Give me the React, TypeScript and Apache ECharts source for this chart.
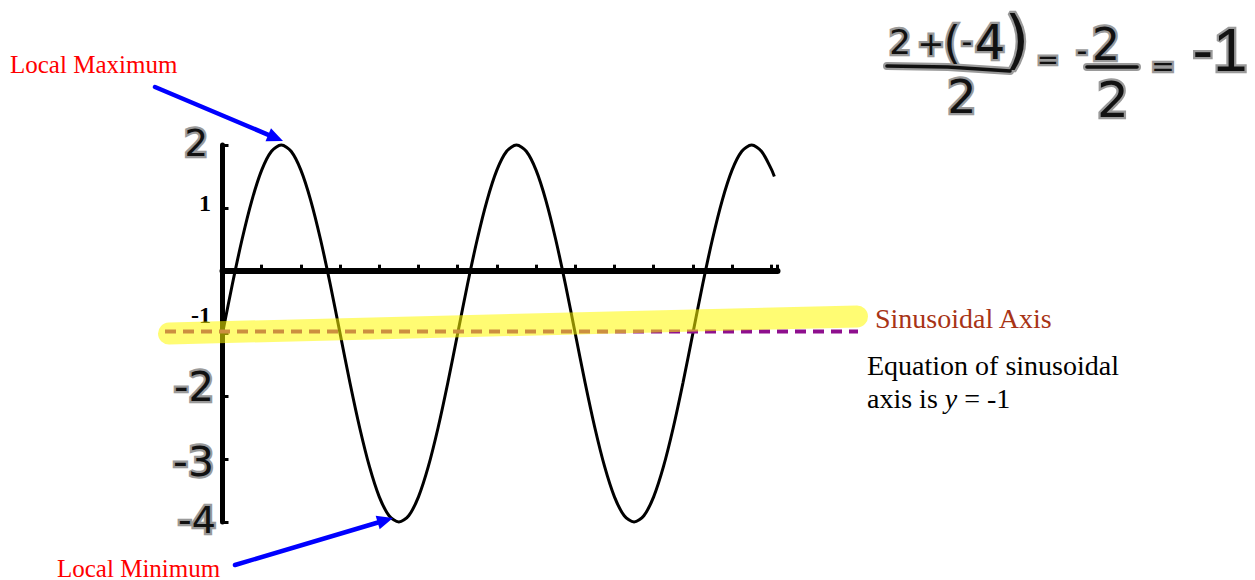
import React, { useEffect, useRef } from "react";
import * as echarts from "echarts";

// x positions in axis tick units
const xValues = [
  0, 0.25, 0.5, 0.75, 1, 1.25, 1.5, 1.75, 2, 2.25, 2.5, 2.75, 3, 3.25, 3.5, 3.75,
  4, 4.25, 4.5, 4.75, 5, 5.25, 5.5, 5.75, 6, 6.25, 6.5, 6.75, 7, 7.25, 7.5, 7.75,
  8, 8.25, 8.5, 8.75, 9, 9.25, 9.5, 9.75, 10, 10.25, 10.5, 10.75, 11, 11.25, 11.5,
  11.75, 12, 12.25, 12.5, 12.75, 13, 13.25, 13.5, 13.75, 14, 14.08,
];
// curve heights
const yValues = [
  -1, -0.22, 0.5, 1.12, 1.6, 1.9, 2, 1.9, 1.6, 1.12, 0.5, -0.22, -1, -1.78, -2.5, -3.12,
  -3.6, -3.9, -4, -3.9, -3.6, -3.12, -2.5, -1.78, -1, -0.22, 0.5, 1.12, 1.6, 1.9, 2, 1.9,
  1.6, 1.12, 0.5, -0.22, -1, -1.78, -2.5, -3.12, -3.6, -3.9, -4, -3.9, -3.6, -3.12, -2.5,
  -1.78, -1, -0.22, 0.5, 1.12, 1.6, 1.9, 2, 1.9, 1.62, 1.5,
];
const yTickValues = [2, 1, -1, -2, -3, -4];
const yTickLabels = ["2", "1", "-1", "-2", "-3", "-4"];
const sinusoidalAxisValue = -1;
const xMin = 0;
const xMax = 14.16;
const yMin = -4;
const yMax = 2;

const SERIF = "'Liberation Serif', 'Times New Roman', serif";
const HAND = "'DejaVu Sans', sans-serif";
const HALO = "#9a9a9a";

function handText(text: string, x: number, y: number, size: number, align = "center", family = HAND) {
  const base = {
    text,
    x,
    y,
    fontSize: size,
    fontFamily: family,
    align,
    verticalAlign: "middle",
  };
  return [
    {
      type: "text",
      z: 29,
      silent: true,
      style: { ...base, fill: HALO, stroke: HALO, lineWidth: 4.5 },
    },
    {
      type: "text",
      z: 30,
      style: { ...base, fill: "#111" },
    },
  ];
}

function arrow(x1: number, y1: number, x2: number, y2: number) {
  const dx = x2 - x1;
  const dy = y2 - y1;
  const len = Math.sqrt(dx * dx + dy * dy);
  const ux = dx / len;
  const uy = dy / len;
  const head = 16;
  const half = 7;
  const bx = x2 - ux * head;
  const by = y2 - uy * head;
  const nx = -uy;
  const ny = ux;
  return [
    {
      type: "line",
      z: 30,
      shape: { x1, y1, x2: bx + ux * 2, y2: by + uy * 2 },
      style: { stroke: "#0000ff", lineWidth: 4.5, lineCap: "round" },
    },
    {
      type: "polygon",
      z: 30,
      shape: {
        points: [
          [x2, y2],
          [bx + nx * half, by + ny * half],
          [bx - nx * half, by - ny * half],
        ],
      },
      style: { fill: "#0000ff" },
    },
  ];
}

function handStroke(points: number[][]) {
  return [
    {
      type: "polyline",
      z: 29,
      shape: { points },
      style: { stroke: HALO, lineWidth: 8, lineCap: "round", lineJoin: "round", fill: null },
    },
    {
      type: "polyline",
      z: 30,
      shape: { points },
      style: { stroke: "#111", lineWidth: 3.6, lineCap: "round", lineJoin: "round", fill: null },
    },
  ];
}

const labelLayout: Record<string, { dx: number; dy: number; size: number; hand: boolean }> = {
  "2": { dx: -14.5, dy: -2, size: 37, hand: true },
  "1": { dx: -11.5, dy: -5, size: 24, hand: false },
  "-1": { dx: -11.5, dy: -18.5, size: 24, hand: false },
  "-2": { dx: -8.5, dy: -9, size: 40, hand: true },
  "-3": { dx: -8.5, dy: 3, size: 41, hand: true },
  "-4": { dx: -6.5, dy: -2, size: 38, hand: true },
};

export default function App() {
  const ref = useRef<HTMLDivElement>(null);

  useEffect(() => {
    if (!ref.current) return;
    const chart = echarts.init(ref.current, null, { renderer: "svg" });
    chart.setOption({
      animation: false,
      backgroundColor: "#ffffff",
      grid: { left: 222.5, top: 145, width: 555, height: 377, containLabel: false },
      xAxis: {
        type: "value",
        min: xMin,
        max: xMax,
        interval: 1,
        axisLine: { show: true, onZero: true, lineStyle: { color: "#000", width: 6 } },
        axisTick: { show: true, inside: true, length: 6, lineStyle: { color: "#000", width: 3 } },
        axisLabel: { show: false },
        splitLine: { show: false },
      },
      yAxis: {
        type: "value",
        min: yMin,
        max: yMax,
        interval: 1,
        axisLine: { show: true, onZero: false, lineStyle: { color: "#000", width: 5 } },
        axisTick: { show: true, inside: true, length: 6, lineStyle: { color: "#000", width: 3 } },
        axisLabel: { show: false },
        splitLine: { show: false },
      },
      series: [
        {
          type: "line",
          z: 2,
          data: xValues.map((x, i) => [x, yValues[i]]),
          showSymbol: false,
          symbol: "none",
          smooth: 0.3,
          clip: false,
          lineStyle: { color: "#000", width: 3 },
        },
      ],
    });

    const axisX = chart.convertToPixel({ xAxisIndex: 0 }, 0) as number;
    const axisPx = chart.convertToPixel({ yAxisIndex: 0 }, sinusoidalAxisValue) as number;

    const graphics: any[] = [];

    // y tick labels
    yTickValues.forEach((v, i) => {
      const t = yTickLabels[i];
      const L = labelLayout[t];
      const py = chart.convertToPixel({ yAxisIndex: 0 }, v) as number;
      if (L.hand) {
        graphics.push(...handText(t, axisX + L.dx, py + L.dy, L.size, "right"));
      } else {
        graphics.push({
          type: "text",
          z: 30,
          style: {
            text: t,
            x: axisX + L.dx,
            y: py + L.dy,
            fontSize: L.size,
            fontWeight: "bold",
            fontFamily: SERIF,
            fill: "#000",
            align: "right",
            verticalAlign: "middle",
          },
        });
      }
    });

    // dashed sinusoidal axis
    graphics.push({
      type: "line",
      z: 40,
      shape: { x1: 165, y1: axisPx - 2, x2: 858, y2: axisPx - 2 },
      style: { stroke: "#8e0f8e", lineWidth: 4, lineDash: [11, 7] },
    });
    // highlighter stroke
    graphics.push({
      type: "line",
      z: 50,
      shape: { x1: 169, y1: axisPx, x2: 857, y2: axisPx - 17 },
      style: { stroke: "rgba(255,250,0,0.55)", lineWidth: 22, lineCap: "round" },
    });

    // annotations
    graphics.push({
      type: "text",
      z: 30,
      style: { text: "Local Maximum", x: 10, y: 64, fontSize: 25, fontFamily: SERIF, fill: "#ff0000", align: "left", verticalAlign: "middle" },
    });
    graphics.push({
      type: "text",
      z: 30,
      style: { text: "Local Minimum", x: 57, y: 568, fontSize: 25, fontFamily: SERIF, fill: "#ff0000", align: "left", verticalAlign: "middle" },
    });
    graphics.push(...arrow(155, 87, 283, 141));
    graphics.push(...arrow(235, 565, 393, 518));

    graphics.push({
      type: "text",
      z: 60,
      style: { text: "Sinusoidal Axis", x: 875, y: 318, fontSize: 28, fontFamily: SERIF, fill: "#a83416", align: "left", verticalAlign: "middle" },
    });
    graphics.push({
      type: "text",
      z: 30,
      style: { text: "Equation of sinusoidal", x: 867, y: 365, fontSize: 28, fontFamily: SERIF, fill: "#000", align: "left", verticalAlign: "middle" },
    });
    graphics.push({
      type: "text",
      z: 30,
      style: {
        text: "{a|axis is }{i|y}{a| = -1}",
        x: 867,
        y: 398,
        fontSize: 28,
        fontFamily: SERIF,
        fill: "#000",
        align: "left",
        verticalAlign: "middle",
        rich: {
          a: { fontSize: 28, fontFamily: SERIF, fill: "#000" },
          i: { fontSize: 28, fontFamily: SERIF, fontStyle: "italic", fill: "#000" },
        },
      },
    });

    // handwritten computation
    graphics.push(...handText("2", 900, 42, 34));
    graphics.push(...handText("+", 931, 44, 32));
    graphics.push(...handText("(", 952, 42, 44));
    graphics.push(...handText("-", 967, 41, 30));
    graphics.push(...handText("4", 990, 42, 48));
    graphics.push(...handText(")", 1017, 40, 64));
    graphics.push(...handStroke([[887, 66], [948, 67], [1010, 71]]));
    graphics.push(...handText("2", 962, 97, 46));
    graphics.push(...handText("=", 1048, 60, 26));
    graphics.push(...handText("-", 1082, 50, 30));
    graphics.push(...handText("2", 1106, 44, 44));
    graphics.push(...handStroke([[1087, 67], [1137, 67]]));
    graphics.push(...handText("2", 1113, 100, 50));
    graphics.push(...handText("=", 1163, 66, 28));
    graphics.push(...handText("-1", 1220, 49, 62, "center", "'Liberation Sans', sans-serif"));

    chart.setOption({ graphic: graphics });

    return () => {
      chart.dispose();
    };
  }, []);

  return (
    <div
      ref={ref}
      style={{ position: "absolute", left: 0, top: 0, width: 1255, height: 580, background: "#fff" }}
    />
  );
}
